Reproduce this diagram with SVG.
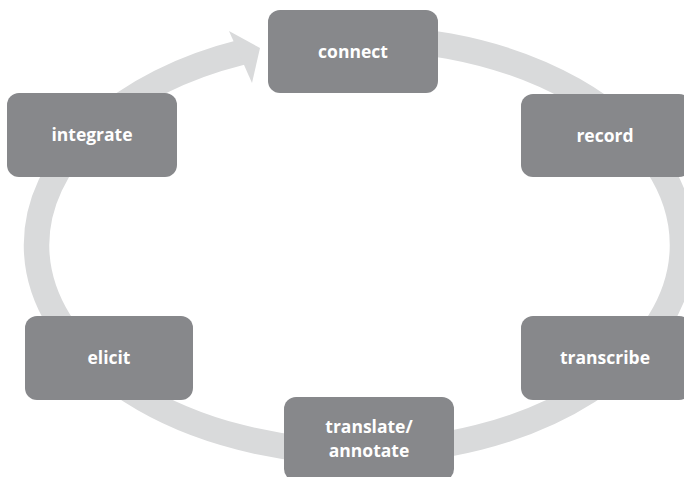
<svg xmlns="http://www.w3.org/2000/svg" width="684" height="477" viewBox="0 0 684 477">
<style>
.box{fill:#87888b}
.lbl{fill:#ffffff;font-family:"Open Sans","DejaVu Sans",sans-serif;font-weight:bold;font-size:17.5px;text-anchor:middle}
.ring{fill:none;stroke:#d9dadb;stroke-width:25.5;stroke-linecap:butt}
</style>
<rect width="684" height="477" fill="#ffffff"/>
<g id="connectors">
<path class="ring" d="M320 39.55 A323 207 0 0 1 682.5 245 A323 207 0 0 1 359.5 452 A323 207 0 0 1 36.5 245 A323 207 0 0 1 242 52.2"/>
<polygon points="229,31 260,48 252,83" fill="#d9dadb"/>
</g>
<g id="connect"><rect class="box" x="268" y="10" width="170" height="83" rx="12"/><text class="lbl" x="353" y="58">connect</text></g>
<g id="record"><rect class="box" x="521" y="94" width="170" height="83" rx="12"/><text class="lbl" x="605" y="142">record</text></g>
<g id="transcribe"><rect class="box" x="521" y="316" width="170" height="84" rx="12"/><text class="lbl" x="605" y="364">transcribe</text></g>
<g id="translate"><rect class="box" x="284" y="397" width="170" height="84" rx="12"/><text class="lbl" x="369" y="433">translate/</text><text class="lbl" x="369" y="457">annotate</text></g>
<g id="elicit"><rect class="box" x="25" y="316" width="168" height="84" rx="12"/><text class="lbl" x="109" y="364">elicit</text></g>
<g id="integrate"><rect class="box" x="7" y="93" width="170" height="84" rx="12"/><text class="lbl" x="92" y="141">integrate</text></g>
</svg>
